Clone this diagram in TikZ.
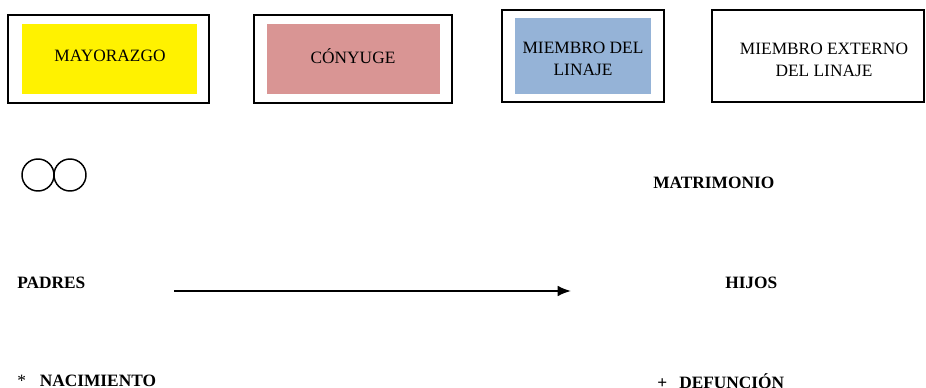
\documentclass[tikz,border=0pt]{standalone}
\usepackage{fontspec}
\setmainfont{Liberation Serif}
\usepackage{xcolor}
\usetikzlibrary{arrows.meta}
\definecolor{rosado}{HTML}{D99594}
\definecolor{azulado}{HTML}{95B3D7}

\begin{document}
\begin{tikzpicture}[x=0.75pt,y=-0.75pt,
  marco/.style={draw=black,line width=1.6pt},
  leyenda/.style={font=\fontsize{13}{17}\selectfont,align=center},
  negrita/.style={font=\fontsize{13}{15}\selectfont\bfseries,inner sep=0pt}]
\useasboundingbox (0,0) rectangle (926,388);
% cajas de la leyenda
 \draw[marco] (8,15) rectangle (209,103);
 \fill[yellow] (22,24) rectangle (197,94);
 \node[leyenda] (mayorazgo) at (110,56) {MAYORAZGO};
 \draw[marco] (254,15) rectangle (452,103);
 \fill[rosado] (267,24) rectangle (440,94);
 \node[leyenda] (conyuge) at (353,56) {CÓNYUGE};
 \draw[marco] (502,10) rectangle (664,102);
 \fill[azulado] (515,18) rectangle (651,94);
 \node[leyenda] (miembro) at (583,59) {MIEMBRO DEL\\LINAJE};
 \draw[marco] (712,10) rectangle (924,102);
 \node[leyenda] (externo) at (824,60) {MIEMBRO EXTERNO\\DEL LINAJE};
% simbolos
 \draw[line width=1.1pt] (38,175) circle (16) (70,175) circle (16);
 \node[negrita,anchor=west] (matrimonio) at (653,183) {MATRIMONIO};
 \node[negrita,anchor=west] (padres) at (17,283) {PADRES};
 \node[negrita,anchor=west] (hijos) at (725,283) {HIJOS};
 \coordinate (desde) at (174,291);
 \coordinate (hasta) at (571,291);
 \draw[-{Latex[length=10pt,width=8pt]},line width=1.3pt] (desde) -- (hasta);
 \node[negrita,anchor=west] (nacimiento) at (17,381) {{\mdseries*}\hspace{0.8em}NACIMIENTO};
 \node[negrita,anchor=west] (defuncion) at (657,381) {+\hspace{0.7em}DEFUNCIÓN};
\end{tikzpicture}
\end{document}
